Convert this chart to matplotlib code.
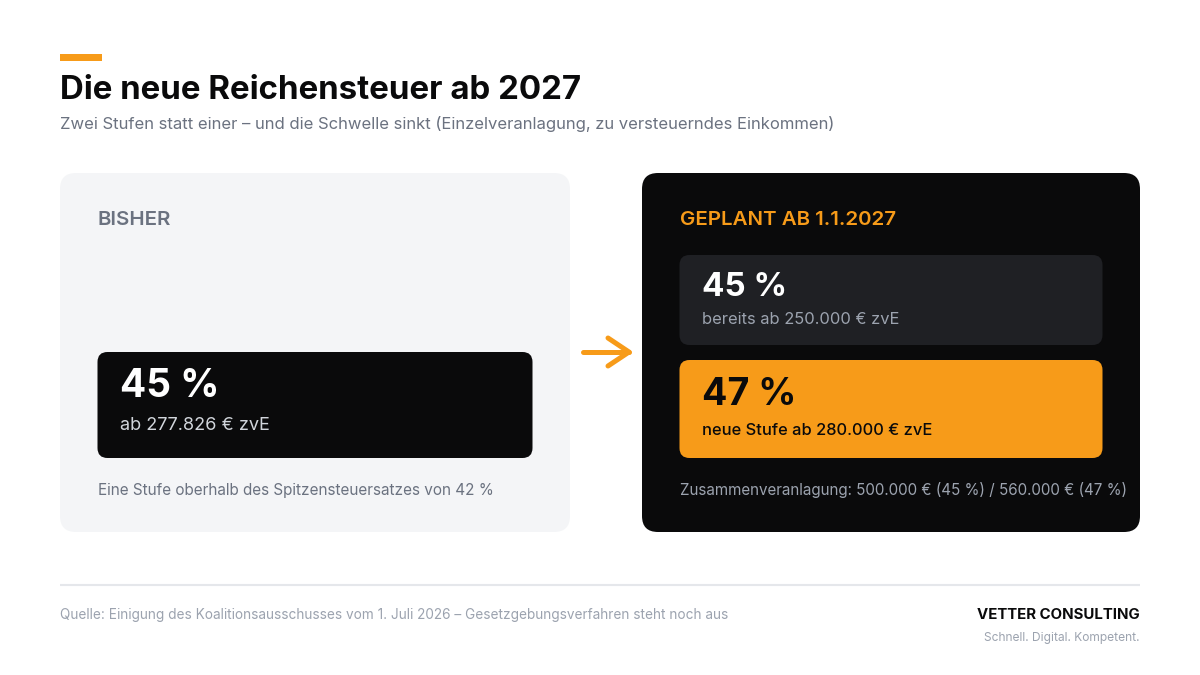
import matplotlib
matplotlib.use('Agg')
import matplotlib.pyplot as plt
from matplotlib.patches import FancyBboxPatch, Rectangle

plt.rcParams['font.family'] = ['Inter', 'DejaVu Sans']

ORANGE = '#F79B19'
BLACK = '#0A0A0B'
GREY = '#6B7280'
LIGHT = '#9CA3AF'

title = 'Die neue Reichensteuer ab 2027'
subtitle = 'Zwei Stufen statt einer – und die Schwelle sinkt (Einzelveranlagung, zu versteuerndes Einkommen)'
left_head = 'BISHER'
right_head = 'GEPLANT AB 1.1.2027'
old_rate = '45 %'
old_text = 'ab 277.826 € zvE'
old_note = 'Eine Stufe oberhalb des Spitzensteuersatzes von 42 %'
new_rates = ['45 %', '47 %']
new_texts = ['bereits ab 250.000 € zvE', 'neue Stufe ab 280.000 € zvE']
new_note = 'Zusammenveranlagung: 500.000 € (45 %) / 560.000 € (47 %)'
source = 'Quelle: Einigung des Koalitionsausschusses vom 1. Juli 2026 – Gesetzgebungsverfahren steht noch aus'
brand = 'VETTER CONSULTING'
claim = 'Schnell. Digital. Kompetent.'

fig = plt.figure(figsize=(12, 6.75), dpi=100, facecolor='white')
ax = fig.add_axes([0, 0, 1, 1])
ax.set_xlim(0, 1200)
ax.set_ylim(675, 0)
ax.axis('off')


def box(x0, y0, x1, y1, color, r):
    ax.add_patch(FancyBboxPatch((x0 + r, y0 + r), x1 - x0 - 2 * r, y1 - y0 - 2 * r,
                                boxstyle=f'round,pad={r},rounding_size={r}',
                                fc=color, ec='none', mutation_aspect=1))


def label(x, y, s, px, color, weight='normal', ha='left'):
    ax.text(x, y, s, fontsize=px * 0.72, color=color, fontweight=weight, ha=ha, va='baseline')


# header
ax.add_patch(Rectangle((60, 54), 42, 7, fc=ORANGE, ec='none'))
label(60, 99, title, 33, BLACK, 'bold')
label(60, 129, subtitle, 16.63, GREY)

# cards
box(60, 173, 570, 532, '#F4F5F7', 16)
box(642, 173, 1140, 532, BLACK, 16)

label(97.5, 225, left_head, 20.5, GREY, 'semibold')
box(97.5, 352, 532.5, 458, BLACK, 10)
label(120.5, 397, old_rate, 38.8, 'white', 'bold')
label(120, 430, old_text, 18.1, '#D1D5DB')
label(97.5, 495, old_note, 15.3, GREY)

label(679.5, 225, right_head, 20.5, ORANGE, 'semibold')
box(679.5, 255, 1102.5, 345, '#1F2024', 10)
label(702, 296, new_rates[0], 33.2, 'white', 'bold')
label(702, 324, new_texts[0], 16.5, LIGHT)
box(679.5, 360, 1102.5, 458, ORANGE, 10)
label(702.5, 405, new_rates[1], 37.6, BLACK, 'bold')
label(702, 435, new_texts[1], 16.45, BLACK, 'medium')
label(679.5, 495, new_note, 15.17, LIGHT)

# arrow between the cards
ax.plot([583, 629], [352, 352], color=ORANGE, lw=3.6, solid_capstyle='round')
ax.plot([608, 629, 608], [338, 352, 366], color=ORANGE, lw=3.6,
        solid_capstyle='round', solid_joinstyle='round')

# footer
ax.plot([60, 1140], [585, 585], color='#E5E7EB', lw=1.5, solid_capstyle='butt')
label(60, 619, source, 13.65, LIGHT)
label(1140, 619, brand, 15, BLACK, 'bold', ha='right')
label(1140, 641, claim, 12, LIGHT, ha='right')

fig.savefig('out.png', dpi=100, facecolor='white')
